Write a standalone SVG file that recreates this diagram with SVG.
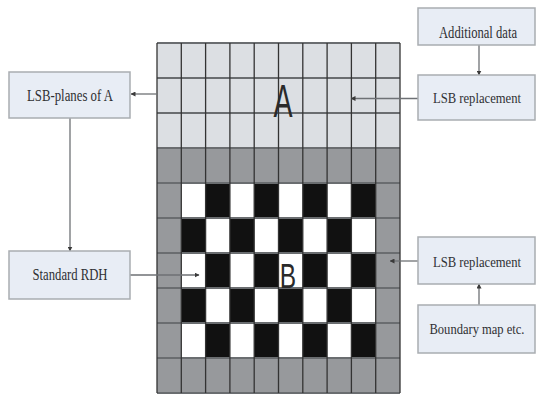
<svg xmlns="http://www.w3.org/2000/svg" width="538" height="394" viewBox="0 0 538 394">
<style>
.lt{fill:#dcdfe3}
.dk{fill:#97999c}
.bk{fill:#111}
.wh{fill:#fff}
.gv{stroke:#333;stroke-width:1.3}
.gh{stroke:#6a6d70;stroke-width:2.2}
.box{fill:#e8edf5;stroke:#a9adb1;stroke-width:1.5}
.lbl{font-family:"Liberation Serif","Times New Roman",serif;font-size:16px;fill:#2f3033;text-anchor:middle}
.sm{font-size:14px}
.big{font-family:"Liberation Sans",Arial,sans-serif;fill:#2a2a2a;text-anchor:middle}
.con{stroke:#6e7175;stroke-width:1.3;fill:none;marker-end:url(#ah)}
</style>
<defs>
<marker id="ah" viewBox="0 0 10 10" refX="9" refY="5" markerWidth="5" markerHeight="5" orient="auto" markerUnits="userSpaceOnUse">
<path d="M0,0 L10,5 L0,10 Z" fill="#3a3a3a"/>
</marker>
</defs>
<rect width="538" height="394" fill="#fff"/>
<g id="grid">
<rect class="lt" x="157" y="43" width="243" height="105"/>
<rect class="dk" x="157" y="148" width="243" height="35"/>
<rect class="dk" x="157" y="183" width="24.3" height="175"/>
<rect class="dk" x="375.7" y="183" width="24.3" height="175"/>
<rect class="dk" x="157" y="358" width="243" height="35"/>
<rect class="wh" x="181.3" y="183" width="194.4" height="175"/>
<g class="bk">
<rect x="205.6" y="183" width="24.3" height="35"/><rect x="254.2" y="183" width="24.3" height="35"/><rect x="302.8" y="183" width="24.3" height="35"/><rect x="351.4" y="183" width="24.3" height="35"/>
<rect x="181.3" y="218" width="24.3" height="35"/><rect x="229.9" y="218" width="24.3" height="35"/><rect x="278.5" y="218" width="24.3" height="35"/><rect x="327.1" y="218" width="24.3" height="35"/>
<rect x="205.6" y="253" width="24.3" height="35"/><rect x="254.2" y="253" width="24.3" height="35"/><rect x="302.8" y="253" width="24.3" height="35"/><rect x="351.4" y="253" width="24.3" height="35"/>
<rect x="181.3" y="288" width="24.3" height="35"/><rect x="229.9" y="288" width="24.3" height="35"/><rect x="278.5" y="288" width="24.3" height="35"/><rect x="327.1" y="288" width="24.3" height="35"/>
<rect x="205.6" y="323" width="24.3" height="35"/><rect x="254.2" y="323" width="24.3" height="35"/><rect x="302.8" y="323" width="24.3" height="35"/><rect x="351.4" y="323" width="24.3" height="35"/>
</g>
<g class="gh">
<line x1="157" y1="43" x2="400" y2="43"/><line x1="157" y1="78" x2="400" y2="78"/><line x1="157" y1="113" x2="400" y2="113"/><line x1="157" y1="148" x2="400" y2="148"/><line x1="157" y1="183" x2="400" y2="183"/><line x1="157" y1="218" x2="400" y2="218"/><line x1="157" y1="253" x2="400" y2="253"/><line x1="157" y1="288" x2="400" y2="288"/><line x1="157" y1="323" x2="400" y2="323"/><line x1="157" y1="358" x2="400" y2="358"/><line x1="157" y1="393" x2="400" y2="393"/>
</g>
<g class="gv">
<line x1="157" y1="43" x2="157" y2="393"/><line x1="181.3" y1="43" x2="181.3" y2="393"/><line x1="205.6" y1="43" x2="205.6" y2="393"/><line x1="229.9" y1="43" x2="229.9" y2="393"/><line x1="254.2" y1="43" x2="254.2" y2="393"/><line x1="278.5" y1="43" x2="278.5" y2="393"/><line x1="302.8" y1="43" x2="302.8" y2="393"/><line x1="327.1" y1="43" x2="327.1" y2="393"/><line x1="351.4" y1="43" x2="351.4" y2="393"/><line x1="375.7" y1="43" x2="375.7" y2="393"/><line x1="400" y1="43" x2="400" y2="393"/>
</g>
<text class="big" font-size="46" transform="translate(283,117) scale(0.62,1)">A</text>
<text class="big" font-size="35" transform="translate(288,288) scale(0.7,1)">B</text>
</g>
<g id="connectors">
<line class="con" x1="157" y1="94" x2="131" y2="94"/>
<line class="con" x1="70" y1="118" x2="70" y2="251"/>
<line class="con" x1="130" y1="275" x2="199" y2="275"/>
<line class="con" x1="479" y1="45" x2="479" y2="75"/>
<line class="con" x1="418" y1="98.5" x2="351" y2="98.5"/>
<line class="con" x1="418" y1="261" x2="390" y2="261"/>
<line class="con" x1="479" y1="305" x2="479" y2="284"/>
</g>
<g id="lsb-planes">
<rect class="box" x="9" y="72" width="121" height="46"/>
<text class="lbl" x="70" y="101" textLength="86" lengthAdjust="spacingAndGlyphs">LSB-planes of A</text>
</g>
<g id="standard-rdh">
<rect class="box" x="9" y="251" width="121" height="48"/>
<text class="lbl" x="70" y="280" textLength="75" lengthAdjust="spacingAndGlyphs">Standard RDH</text>
</g>
<g id="additional-data">
<rect class="box" x="418" y="8" width="117" height="37"/>
<text class="lbl" x="478" y="38" textLength="78" lengthAdjust="spacingAndGlyphs">Additional data</text>
</g>
<g id="lsb-replacement-a">
<rect class="box" x="418" y="75" width="117" height="45"/>
<text class="lbl sm" x="477" y="102.5" textLength="88" lengthAdjust="spacingAndGlyphs">LSB replacement</text>
</g>
<g id="lsb-replacement-b">
<rect class="box" x="418" y="237" width="117" height="47"/>
<text class="lbl sm" x="477" y="266.5" textLength="88" lengthAdjust="spacingAndGlyphs">LSB replacement</text>
</g>
<g id="boundary-map">
<rect class="box" x="418" y="305" width="117" height="48"/>
<text class="lbl sm" x="477" y="333.5" textLength="95" lengthAdjust="spacingAndGlyphs">Boundary map etc.</text>
</g>
</svg>
